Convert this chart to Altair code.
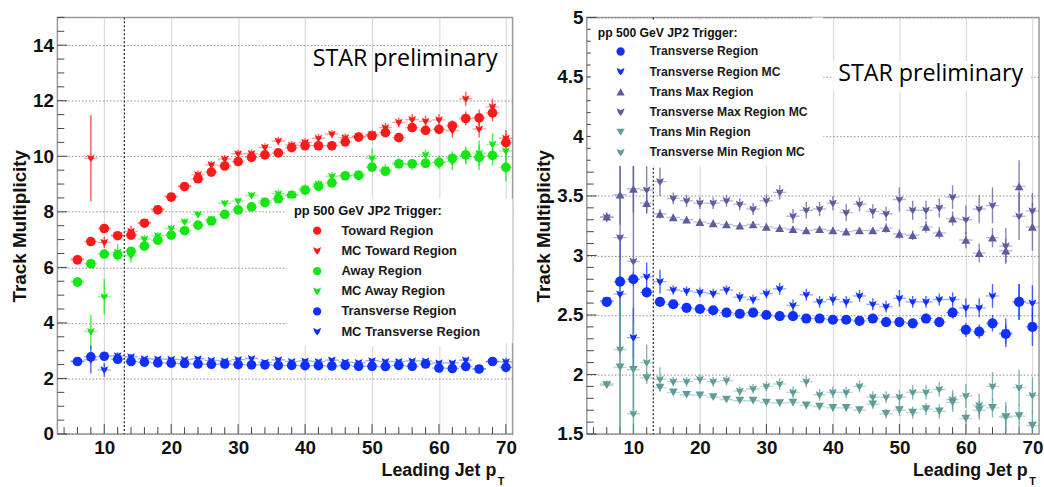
import altair as alt
import pandas as pd

# Leading jet pT bin centres (GeV), shared by every series
PT = [6, 8, 10, 12, 14, 16, 18, 20, 22, 24, 26, 28, 30, 32, 34, 36, 38, 40, 42, 44,
      46, 48, 50, 52, 54, 56, 58, 60, 62, 64, 66, 68, 70]
BIN_HALF_WIDTH = 1.0
CUT_PT = [13]

# ---- left panel: toward / away / transverse multiplicities ----
TOWARD = [6.27, 6.93, 7.40, 7.14, 7.16, 7.59, 8.07, 8.53, 8.91, 9.19, 9.43, 9.65, 9.81, 9.96,
          10.05, 10.12, 10.31, 10.38, 10.38, 10.38, 10.52, 10.69, 10.74, 10.85, 10.67, 11.03,
          10.93, 10.97, 11.10, 11.36, 11.38, 11.56, 10.49]
TOWARD_ERR = [0.10, 0.12, 0.15, 0.12, 0.12, 0.10, 0.10, 0.10, 0.10, 0.10, 0.10, 0.10, 0.10, 0.10,
              0.10, 0.10, 0.10, 0.10, 0.10, 0.12, 0.12, 0.12, 0.12, 0.15, 0.12, 0.15, 0.15, 0.18,
              0.20, 0.25, 0.30, 0.30, 0.30]
MC_TOWARD = [6.30, 9.93, 6.90, 7.15, 7.30, 7.62, 8.10, 8.56, 8.93, 9.34, 9.69, 9.90, 10.09, 10.10,
             10.32, 10.55, 10.40, 10.50, 10.65, 10.80, 10.67, 10.72, 10.79, 11.03, 11.22, 11.32,
             11.26, 11.31, 10.93, 12.07, 10.98, 11.78, 10.65]
MC_TOWARD_ERR = [0.15, 1.55, 0.20, 0.15, 0.20, 0.12, 0.12, 0.12, 0.12, 0.15, 0.15, 0.15, 0.15, 0.15,
                 0.15, 0.15, 0.15, 0.15, 0.15, 0.15, 0.15, 0.15, 0.15, 0.18, 0.18, 0.20, 0.20, 0.20,
                 0.25, 0.25, 0.30, 0.30, 0.30]
AWAY = [5.47, 6.13, 6.48, 6.45, 6.58, 6.77, 6.98, 7.16, 7.32, 7.52, 7.67, 7.91, 8.07, 8.18, 8.33,
        8.47, 8.59, 8.78, 8.92, 9.04, 9.30, 9.31, 9.61, 9.46, 9.73, 9.73, 9.75, 9.78, 9.93, 10.05,
        9.96, 10.03, 9.60]
AWAY_ERR = [0.08, 0.08, 0.10, 0.10, 0.08, 0.08, 0.08, 0.08, 0.08, 0.08, 0.08, 0.08, 0.08, 0.08,
            0.08, 0.08, 0.08, 0.08, 0.10, 0.10, 0.10, 0.10, 0.12, 0.12, 0.12, 0.15, 0.15, 0.20,
            0.25, 0.30, 0.45, 0.35, 0.50]
MC_AWAY = [5.50, 3.69, 4.94, 6.54, 6.42, 7.02, 7.14, 7.40, 7.64, 7.91, 7.73, 8.31, 8.39, 8.59,
           8.40, 8.65, 8.62, 8.83, 9.00, 9.28, 9.30, 9.36, 9.93, 9.52, 9.75, 9.70, 10.05, 9.78,
           9.81, 10.00, 10.11, 10.43, 10.19]
MC_AWAY_ERR = [0.15, 0.60, 0.65, 0.30, 0.25, 0.15, 0.12, 0.12, 0.12, 0.12, 0.12, 0.12, 0.12, 0.12,
               0.12, 0.15, 0.15, 0.15, 0.15, 0.15, 0.15, 0.15, 0.35, 0.20, 0.20, 0.20, 0.20, 0.25,
               0.30, 0.30, 0.45, 0.40, 0.45]

# ---- transverse region and its max / min sub-regions ----
TRANS = [2.61, 2.78, 2.80, 2.69, 2.61, 2.59, 2.56, 2.55, 2.54, 2.52, 2.51, 2.52, 2.50, 2.49, 2.49,
         2.47, 2.47, 2.46, 2.46, 2.45, 2.47, 2.44, 2.44, 2.43, 2.47, 2.44, 2.52, 2.375, 2.36, 2.43,
         2.34, 2.61, 2.40]
TRANS_ERR = [0.02, 0.05, 0.06, 0.04, 0.03, 0.02, 0.02, 0.02, 0.02, 0.02, 0.02, 0.02, 0.02, 0.02,
             0.02, 0.02, 0.02, 0.02, 0.02, 0.02, 0.02, 0.03, 0.03, 0.03, 0.04, 0.04, 0.05, 0.06,
             0.06, 0.07, 0.08, 0.15, 0.16]
MC_TRANS = [2.62, 2.675, 2.31, 2.82, 2.78, 2.71, 2.70, 2.69, 2.68, 2.71, 2.65, 2.63, 2.68, 2.72,
            2.58, 2.67, 2.61, 2.63, 2.61, 2.66, 2.59, 2.57, 2.64, 2.61, 2.61, 2.63, 2.63, 2.56,
            2.56, 2.66, 2.35, 2.61, 2.60]
MC_TRANS_ERR = [0.03, 0.50, 0.25, 0.12, 0.10, 0.04, 0.04, 0.04, 0.04, 0.04, 0.04, 0.04, 0.04, 0.05,
                0.05, 0.05, 0.05, 0.05, 0.05, 0.05, 0.05, 0.05, 0.07, 0.05, 0.05, 0.05, 0.06, 0.08,
                0.08, 0.10, 0.12, 0.15, 0.15]
TMAX = [3.325, 3.51, 3.56, 3.44, 3.35, 3.32, 3.30, 3.28, 3.27, 3.26, 3.25, 3.26, 3.24, 3.23, 3.22,
        3.21, 3.22, 3.21, 3.20, 3.21, 3.21, 3.23, 3.18, 3.17, 3.24, 3.19, 3.31, 3.13, 3.02, 3.15,
        3.04, 3.58, 3.24]
TMAX_ERR = [0.03, 0.25, 0.20, 0.08, 0.04, 0.03, 0.03, 0.03, 0.03, 0.03, 0.03, 0.03, 0.03, 0.03,
            0.03, 0.03, 0.03, 0.03, 0.03, 0.03, 0.03, 0.04, 0.04, 0.04, 0.05, 0.05, 0.06, 0.07,
            0.08, 0.08, 0.10, 0.22, 0.20]
MC_TMAX = [3.32, 3.15, 2.95, 3.55, 3.62, 3.48, 3.46, 3.44, 3.44, 3.46, 3.43, 3.39, 3.46, 3.53,
           3.33, 3.38, 3.39, 3.44, 3.36, 3.43, 3.37, 3.35, 3.47, 3.38, 3.38, 3.40, 3.49, 3.30,
           3.39, 3.42, 3.08, 3.33, 3.375]
MC_TMAX_ERR = [0.04, 0.60, 0.80, 0.20, 0.12, 0.05, 0.05, 0.05, 0.05, 0.05, 0.05, 0.05, 0.05, 0.06,
               0.06, 0.07, 0.06, 0.06, 0.07, 0.06, 0.06, 0.06, 0.10, 0.08, 0.08, 0.08, 0.10, 0.12,
               0.12, 0.15, 0.15, 0.20, 0.15]
TMIN = [1.91, 2.06, 2.04, 1.97, 1.89, 1.85, 1.83, 1.825, 1.81, 1.79, 1.78, 1.78, 1.765, 1.76,
        1.765, 1.74, 1.73, 1.72, 1.72, 1.70, 1.75, 1.67, 1.70, 1.68, 1.71, 1.69, 1.765, 1.63,
        1.70, 1.72, 1.64, 1.65, 1.57]
TMIN_ERR = [0.02, 0.55, 0.40, 0.05, 0.03, 0.02, 0.02, 0.02, 0.02, 0.02, 0.02, 0.02, 0.02, 0.03,
            0.03, 0.03, 0.03, 0.03, 0.03, 0.03, 0.04, 0.04, 0.05, 0.05, 0.05, 0.06, 0.08, 0.07,
            0.08, 0.08, 0.10, 0.10, 0.12]
MC_TMIN = [1.92, 2.21, 1.67, 2.10, 1.96, 1.94, 1.94, 1.96, 1.94, 1.95, 1.86, 1.88, 1.90, 1.92,
           1.85, 1.94, 1.83, 1.85, 1.85, 1.90, 1.81, 1.81, 1.81, 1.85, 1.85, 1.875, 1.79, 1.82,
           1.74, 1.90, 1.65, 1.89, 1.825]
MC_TMIN_ERR = [0.03, 0.75, 0.50, 0.15, 0.10, 0.04, 0.04, 0.04, 0.04, 0.04, 0.04, 0.04, 0.04, 0.05,
               0.05, 0.05, 0.05, 0.05, 0.05, 0.05, 0.05, 0.05, 0.06, 0.06, 0.06, 0.06, 0.08, 0.10,
               0.10, 0.12, 0.12, 0.15, 0.15]

# Marker for the MC curves: a down-pointing arrowhead with a shallow notch on top
MC_MARK = "M-0.95,-0.9L0,-0.45L0.95,-0.9L0.6,0.15L0,0.95L-0.6,0.15Z"

RED, GREEN, BLUE = "#ff1a1a", "#14e614", "#1030ff"
VIOLET, TEAL = "#5c5c9e", "#5e9c98"

LEFT_SERIES = [
    ("Toward Region", TOWARD, TOWARD_ERR, RED, "circle", 95),
    ("MC Toward Region", MC_TOWARD, MC_TOWARD_ERR, RED, MC_MARK, 64),
    ("Away Region", AWAY, AWAY_ERR, GREEN, "circle", 95),
    ("MC Away Region", MC_AWAY, MC_AWAY_ERR, GREEN, MC_MARK, 64),
    ("Transverse Region", TRANS, TRANS_ERR, BLUE, "circle", 95),
    ("MC Transverse Region", MC_TRANS, MC_TRANS_ERR, BLUE, MC_MARK, 64),
]
RIGHT_SERIES = [
    ("Transverse Region", TRANS, TRANS_ERR, BLUE, "circle", 105),
    ("Transverse Region MC", MC_TRANS, MC_TRANS_ERR, BLUE, MC_MARK, 66),
    ("Trans Max Region", TMAX, TMAX_ERR, VIOLET, "triangle-up", 80),
    ("Transverse Max Region MC", MC_TMAX, MC_TMAX_ERR, VIOLET, MC_MARK, 66),
    ("Trans Min Region", TMIN, TMIN_ERR, TEAL, "triangle-down", 80),
    ("Transverse Min Region MC", MC_TMIN, MC_TMIN_ERR, TEAL, MC_MARK, 66),
]

X_MAJOR = [10, 20, 30, 40, 50, 60, 70]
X_MINOR = [v for v in range(4, 71, 2) if v not in X_MAJOR]
FONT = "Liberation Sans"
HEIGHT = 421


def make_panel(series, y_domain, y_major, y_minor, width, legend_x, legend_y, legend_font,
               label_offset, row_padding, covers, star_x, star_y, title_gap):
    labels = [s[0] for s in series]
    keys = [f"k{i}" for i in range(len(series))]
    rows = []
    for key, (label, vals, errs, _c, _s, size) in zip(keys, series):
        for pt, v, e in zip(PT, vals, errs):
            rows.append({"series": label, "key": key, "pt": pt, "v": v, "lo": v - e,
                         "hi": v + e, "pt_lo": pt - BIN_HALF_WIDTH,
                         "pt_hi": pt + BIN_HALF_WIDTH, "size": size})
    df = pd.DataFrame(rows)

    xs = alt.Scale(domain=[3, 71], nice=False, zero=False)
    ys = alt.Scale(domain=y_domain, nice=False, zero=False)
    color_scale = alt.Scale(domain=labels, range=[s[3] for s in series])
    shape_scale = alt.Scale(domain=labels, range=[s[4] for s in series])

    legend = alt.Legend(
        title="pp 500 GeV JP2 Trigger:", orient="none", legendX=legend_x, legendY=legend_y,
        titleFont=FONT, titleFontSize=legend_font, titleFontWeight="bold", titleColor="#111",
        labelFont=FONT, labelFontSize=legend_font, labelFontWeight="bold", labelColor="#1a1a1a",
        labelLimit=320, symbolSize=70, symbolStrokeWidth=0, symbolOffset=17,
        labelOffset=label_offset, rowPadding=row_padding, titlePadding=6, padding=7,
        fillColor="white", zindex=1,
    )

    x_axis = alt.Axis(
        values=X_MAJOR, grid=True, gridColor="#d2d2d2", gridWidth=1, ticks=False, tickSize=0,
        domain=False, labelFont=FONT, labelFontSize=19, labelFontWeight="bold",
        labelColor="#111", labelPadding=5, labelFlush=False,
        title="Leading Jet p", titleFont=FONT, titleFontSize=18, titleFontWeight="bold",
        titleColor="#111", titleAlign="right", titleBaseline="alphabetic",
        titleX=width - title_gap, titleY=42,
    )
    y_axis = alt.Axis(
        values=y_major, format="~g", grid=True, gridColor="#8c8c8c", gridDash=[1.5, 2],
        gridWidth=1, ticks=False, tickSize=0, domain=False, labelFont=FONT, labelFontSize=19,
        labelFontWeight="bold", labelColor="#111", labelPadding=4, labelFlush=False,
        title="Track Multiplicity", titleFont=FONT, titleFontSize=19, titleFontWeight="bold",
        titleColor="#111", titlePadding=3,
    )

    layers = []
    # white boxes behind the label text and beside the legend box
    for x0, x1, y0, y1 in covers:
        layers.append(alt.Chart(pd.DataFrame({"k": [0]})).mark_rect(color="white").encode(
            x=alt.value(x0), x2=alt.value(x1), y=alt.value(y0), y2=alt.value(y1)))

    # trigger threshold marker
    layers.append(alt.Chart(pd.DataFrame({"pt": CUT_PT})).mark_rule(
        color="#333", strokeDash=[2, 2], strokeWidth=1.3).encode(
        x=alt.X("pt:Q", scale=xs)))

    # inward-pointing frame ticks
    def yticks(vals, length):
        return alt.Chart(pd.DataFrame({"v": vals})).mark_rule(color="#444", strokeWidth=1).encode(
            y=alt.Y("v:Q", scale=ys), x=alt.value(0), x2=alt.value(length))

    def xticks(vals, length):
        return alt.Chart(pd.DataFrame({"pt": vals})).mark_rule(color="#444", strokeWidth=1).encode(
            x=alt.X("pt:Q", scale=xs), y=alt.value(HEIGHT), y2=alt.value(HEIGHT - length))

    layers += [yticks(y_major, 10), yticks(y_minor, 7), xticks(X_MAJOR, 10), xticks(X_MINOR, 7)]

    # error bars coloured through their own stroke scale (keyed separately from the legend)
    stroke = alt.Stroke("key:N", scale=alt.Scale(domain=keys, range=[s[3] for s in series]),
                        legend=None)
    layers.append(alt.Chart(df).mark_rule(clip=True, strokeWidth=1.4, opacity=0.4).encode(
        x=alt.X("pt_lo:Q", scale=xs), x2="pt_hi:Q",
        y=alt.Y("v:Q", scale=ys), stroke=stroke))
    layers.append(alt.Chart(df).mark_rule(clip=True, strokeWidth=1.4, opacity=0.75).encode(
        x=alt.X("pt:Q", scale=xs),
        y=alt.Y("lo:Q", scale=ys), y2="hi:Q", stroke=stroke))

    layers.append(alt.Chart(df).mark_point(filled=True, opacity=1, clip=True).encode(
        x=alt.X("pt:Q", scale=xs, axis=x_axis),
        y=alt.Y("v:Q", scale=ys, axis=y_axis),
        color=alt.Color("series:N", scale=color_scale, legend=legend),
        shape=alt.Shape("series:N", scale=shape_scale, legend=legend),
        size=alt.Size("size:Q", scale=None),
    ))

    layers.append(alt.Chart(pd.DataFrame({"t": ["STAR preliminary"]})).mark_text(
        font="Open Sans", fontSize=23.5, align="left", baseline="alphabetic", color="black").encode(
        x=alt.value(star_x), y=alt.value(star_y), text="t:N"))
    layers.append(alt.Chart(pd.DataFrame({"t": ["T"]})).mark_text(
        font=FONT, fontSize=11, fontWeight="bold", align="left", baseline="alphabetic",
        color="#111").encode(x=alt.value(width - title_gap + 2), y=alt.value(HEIGHT + 52),
                             text="t:N"))

    return alt.layer(*layers).properties(width=width, height=HEIGHT)


LEFT_Y_MAJOR = [0, 2, 4, 6, 8, 10, 12, 14]
LEFT_Y_MINOR = [v / 2 for v in range(0, 31) if v % 4 != 0]
RIGHT_Y_MAJOR = [1.5, 2.0, 2.5, 3.0, 3.5, 4.0, 4.5, 5.0]
RIGHT_Y_MINOR = [v / 10 for v in range(15, 51) if v % 5 != 0]

left = make_panel(LEFT_SERIES, [0, 15], LEFT_Y_MAJOR, LEFT_Y_MINOR, 460,
                  legend_x=232, legend_y=183, legend_font=13, label_offset=18,
                  row_padding=6.4, covers=[(434, 460, 183, 329)],
                  star_x=258, star_y=49, title_gap=17)
right = make_panel(RIGHT_SERIES, [1.5, 5], RIGHT_Y_MAJOR, RIGHT_Y_MINOR, 457,
                   legend_x=4, legend_y=3, legend_font=12.3, label_offset=23,
                   row_padding=7.4, covers=[(228, 239, 0, 149), (249, 449, 44, 74)],
                   star_x=254, star_y=64, title_gap=12)

chart = alt.hconcat(left, right, spacing=16).resolve_scale(
    color="independent", shape="independent", stroke="independent", x="independent",
    y="independent",
).resolve_legend(color="independent", shape="independent").configure_view(
    stroke="#9a9a9a", strokeWidth=1.5
).properties(padding={"left": 10, "top": 5, "right": 0, "bottom": 0}, background="white")

chart.save("out.html", embed_options={"renderer": "svg", "actions": False})
